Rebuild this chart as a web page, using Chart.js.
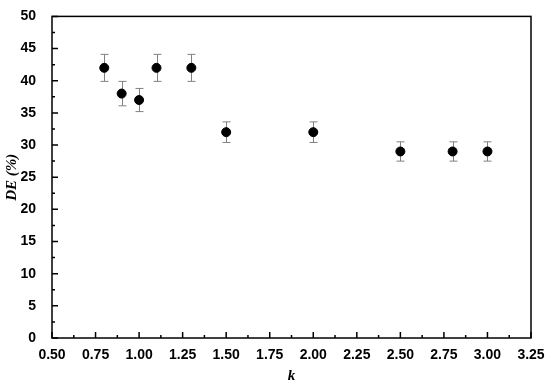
<!DOCTYPE html>
<html>
<head>
<meta charset="utf-8">
<script src="https://cdn.jsdelivr.net/npm/chart.js@4"></script>
<style>
  html, body { margin: 0; padding: 0; background: #fff; }
  #wrap { width: 550px; height: 385px; position: relative; }
</style>
</head>
<body>
<div id="wrap"><canvas id="deChart"></canvas></div>
<script>
(function () {

  const kValues  = [0.8, 0.9, 1.0, 1.1, 1.3, 1.5, 2.0, 2.5, 2.8, 3.0];
  const deValues = [42, 38, 37, 42, 42, 32, 32, 29, 29, 29];
  const deErrors = [2.1, 1.9, 1.8, 2.1, 2.1, 1.6, 1.6, 1.5, 1.5, 1.5];

  const xTicks = [0.50, 0.75, 1.00, 1.25, 1.50, 1.75, 2.00, 2.25, 2.50, 2.75, 3.00, 3.25];
  const yTicks = [0, 5, 10, 15, 20, 25, 30, 35, 40, 45, 50];

  const tickFont = { family: "'Liberation Sans', Arial, sans-serif", size: 14, weight: "bold" };
  const titleFont = { family: "'Liberation Serif', 'Times New Roman', serif", size: 15, weight: "bold", style: "italic" };

  /* error bars, frame and inward ticks */
  const decorPlugin = {
    id: "decor",
    beforeDatasetsDraw(chart) {
      const ctx = chart.ctx;
      const xs = chart.scales.x, ys = chart.scales.y;
      ctx.save();
      ctx.strokeStyle = "#808080";
      ctx.lineWidth = 1;
      kValues.forEach((k, i) => {
        const px = Math.round(xs.getPixelForValue(k)) + 0.5;
        const top = ys.getPixelForValue(deValues[i] + deErrors[i]);
        const bot = ys.getPixelForValue(deValues[i] - deErrors[i]);
        ctx.beginPath();
        ctx.moveTo(px, top); ctx.lineTo(px, bot);
        ctx.moveTo(px - 4, top); ctx.lineTo(px + 4, top);
        ctx.moveTo(px - 4, bot); ctx.lineTo(px + 4, bot);
        ctx.stroke();
      });
      ctx.restore();
    },
    afterDraw(chart) {
      const ctx = chart.ctx;
      const a = chart.chartArea;
      const xs = chart.scales.x, ys = chart.scales.y;
      ctx.save();
      ctx.strokeStyle = "#000";
      ctx.lineWidth = 1.5;
      ctx.strokeRect(a.left, a.top, a.right - a.left, a.bottom - a.top);
      ctx.beginPath();
      xTicks.forEach((v, i) => {
        const px = xs.getPixelForValue(v);
        ctx.moveTo(px, a.bottom); ctx.lineTo(px, a.bottom - 6);
        if (i < xTicks.length - 1) {
          const mx = xs.getPixelForValue(v + 0.125);
          ctx.moveTo(mx, a.bottom); ctx.lineTo(mx, a.bottom - 3);
        }
      });
      yTicks.forEach((v, i) => {
        const py = ys.getPixelForValue(v);
        ctx.moveTo(a.left, py); ctx.lineTo(a.left + 6, py);
        if (i < yTicks.length - 1) {
          const my = ys.getPixelForValue(v + 2.5);
          ctx.moveTo(a.left, my); ctx.lineTo(a.left + 3, my);
        }
      });
      ctx.stroke();
      ctx.restore();
    }
  };

  const ctx = document.getElementById("deChart").getContext("2d");
  new Chart(ctx, {
    type: "scatter",
    data: {
      datasets: [{
        label: "DE",
        data: kValues.map((k, i) => ({ x: k, y: deValues[i] })),
        backgroundColor: "#000",
        borderColor: "#000",
        pointRadius: 4.5,
        pointHoverRadius: 4.5
      }]
    },
    options: {
      responsive: true,
      maintainAspectRatio: false,
      animation: false,
      layout: { padding: { top: 11, right: 19, left: 0, bottom: 0 } },
      plugins: {
        legend: { display: false },
        tooltip: { enabled: false }
      },
      scales: {
        x: {
          type: "linear",
          min: 0.5, max: 3.25,
          afterBuildTicks(scale) { scale.ticks = xTicks.map(v => ({ value: v })); },
          afterFit(scale) { scale.height = 47; },
          grid: { display: false },
          border: { display: false },
          ticks: {
            color: "#000",
            font: tickFont,
            padding: 1,
            maxRotation: 0,
            callback(v) { return v.toFixed(2); }
          },
          title: {
            display: true,
            text: "k",
            color: "#000",
            font: titleFont,
            padding: { top: 4, bottom: 0 }
          }
        },
        y: {
          type: "linear",
          min: 0, max: 50,
          afterBuildTicks(scale) { scale.ticks = yTicks.map(v => ({ value: v })); },
          afterFit(scale) { scale.width = 52; },
          grid: { display: false },
          border: { display: false },
          ticks: {
            color: "#000",
            font: tickFont,
            padding: 8
          },
          title: {
            display: true,
            text: "DE (%)",
            color: "#000",
            font: titleFont,
            padding: { top: 3, bottom: 0 }
          }
        }
      }
    },
    plugins: [decorPlugin]
  });

})();
</script>
</body>
</html>
